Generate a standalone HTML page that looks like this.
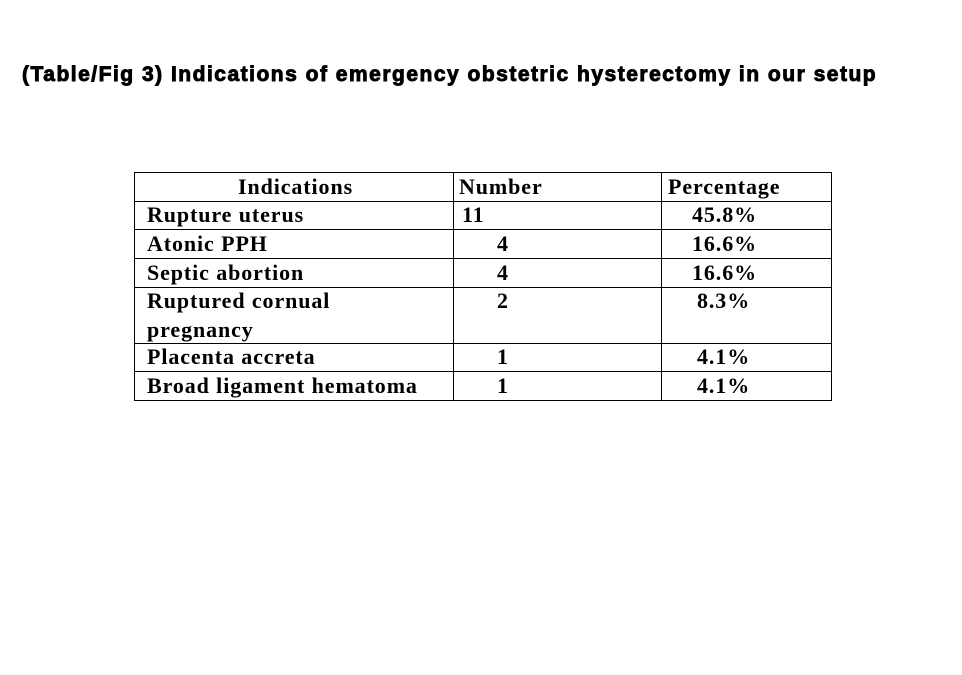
<!DOCTYPE html>
<html><head><meta charset="utf-8"><style>
body{margin:0;width:962px;height:675px;background:#fff;position:relative;overflow:hidden}
.t{position:absolute;left:22px;top:63px;font:bold 21px "Liberation Sans",sans-serif;letter-spacing:1.5px;white-space:nowrap;-webkit-text-stroke:0.9px #000}
.h{position:absolute;background:#000;height:1px}
.v{position:absolute;background:#000;width:1px}
.s{position:absolute;font:bold 22px "Liberation Serif",serif;letter-spacing:0.9px;white-space:nowrap;line-height:24px}
</style></head><body>
<div class="t">(Table/Fig 3) Indications of emergency obstetric hysterectomy in our setup</div>
<div class="h" style="left:134px;width:698px;top:172px"></div>
<div class="h" style="left:134px;width:698px;top:201px"></div>
<div class="h" style="left:134px;width:698px;top:229px"></div>
<div class="h" style="left:134px;width:698px;top:258px"></div>
<div class="h" style="left:134px;width:698px;top:287px"></div>
<div class="h" style="left:134px;width:698px;top:343px"></div>
<div class="h" style="left:134px;width:698px;top:371px"></div>
<div class="h" style="left:134px;width:698px;top:400px"></div>
<div class="v" style="left:134px;top:172px;height:229px"></div>
<div class="v" style="left:453px;top:172px;height:229px"></div>
<div class="v" style="left:661px;top:172px;height:229px"></div>
<div class="v" style="left:831px;top:172px;height:229px"></div>

<div class="s" style="left:238px;top:175px">Indications</div>
<div class="s" style="left:459px;top:175px">Number</div>
<div class="s" style="left:668px;top:175px">Percentage</div>

<div class="s" style="left:147px;top:203px">Rupture uterus</div>
<div class="s" style="left:147px;top:232px">Atonic PPH</div>
<div class="s" style="left:147px;top:261px">Septic abortion</div>
<div class="s" style="left:147px;top:289px">Ruptured cornual</div>
<div class="s" style="left:147px;top:318px">pregnancy</div>
<div class="s" style="left:147px;top:345px">Placenta accreta</div>
<div class="s" style="left:147px;top:374px">Broad ligament hematoma</div>

<div class="s" style="left:462px;top:203px">11</div>
<div class="s" style="left:497px;top:232px">4</div>
<div class="s" style="left:497px;top:261px">4</div>
<div class="s" style="left:497px;top:289px">2</div>
<div class="s" style="left:497px;top:345px">1</div>
<div class="s" style="left:497px;top:374px">1</div>

<div class="s" style="left:692px;top:203px">45.8%</div>
<div class="s" style="left:692px;top:232px">16.6%</div>
<div class="s" style="left:692px;top:261px">16.6%</div>
<div class="s" style="left:697px;top:289px">8.3%</div>
<div class="s" style="left:697px;top:345px">4.1%</div>
<div class="s" style="left:697px;top:374px">4.1%</div>
</body></html>
